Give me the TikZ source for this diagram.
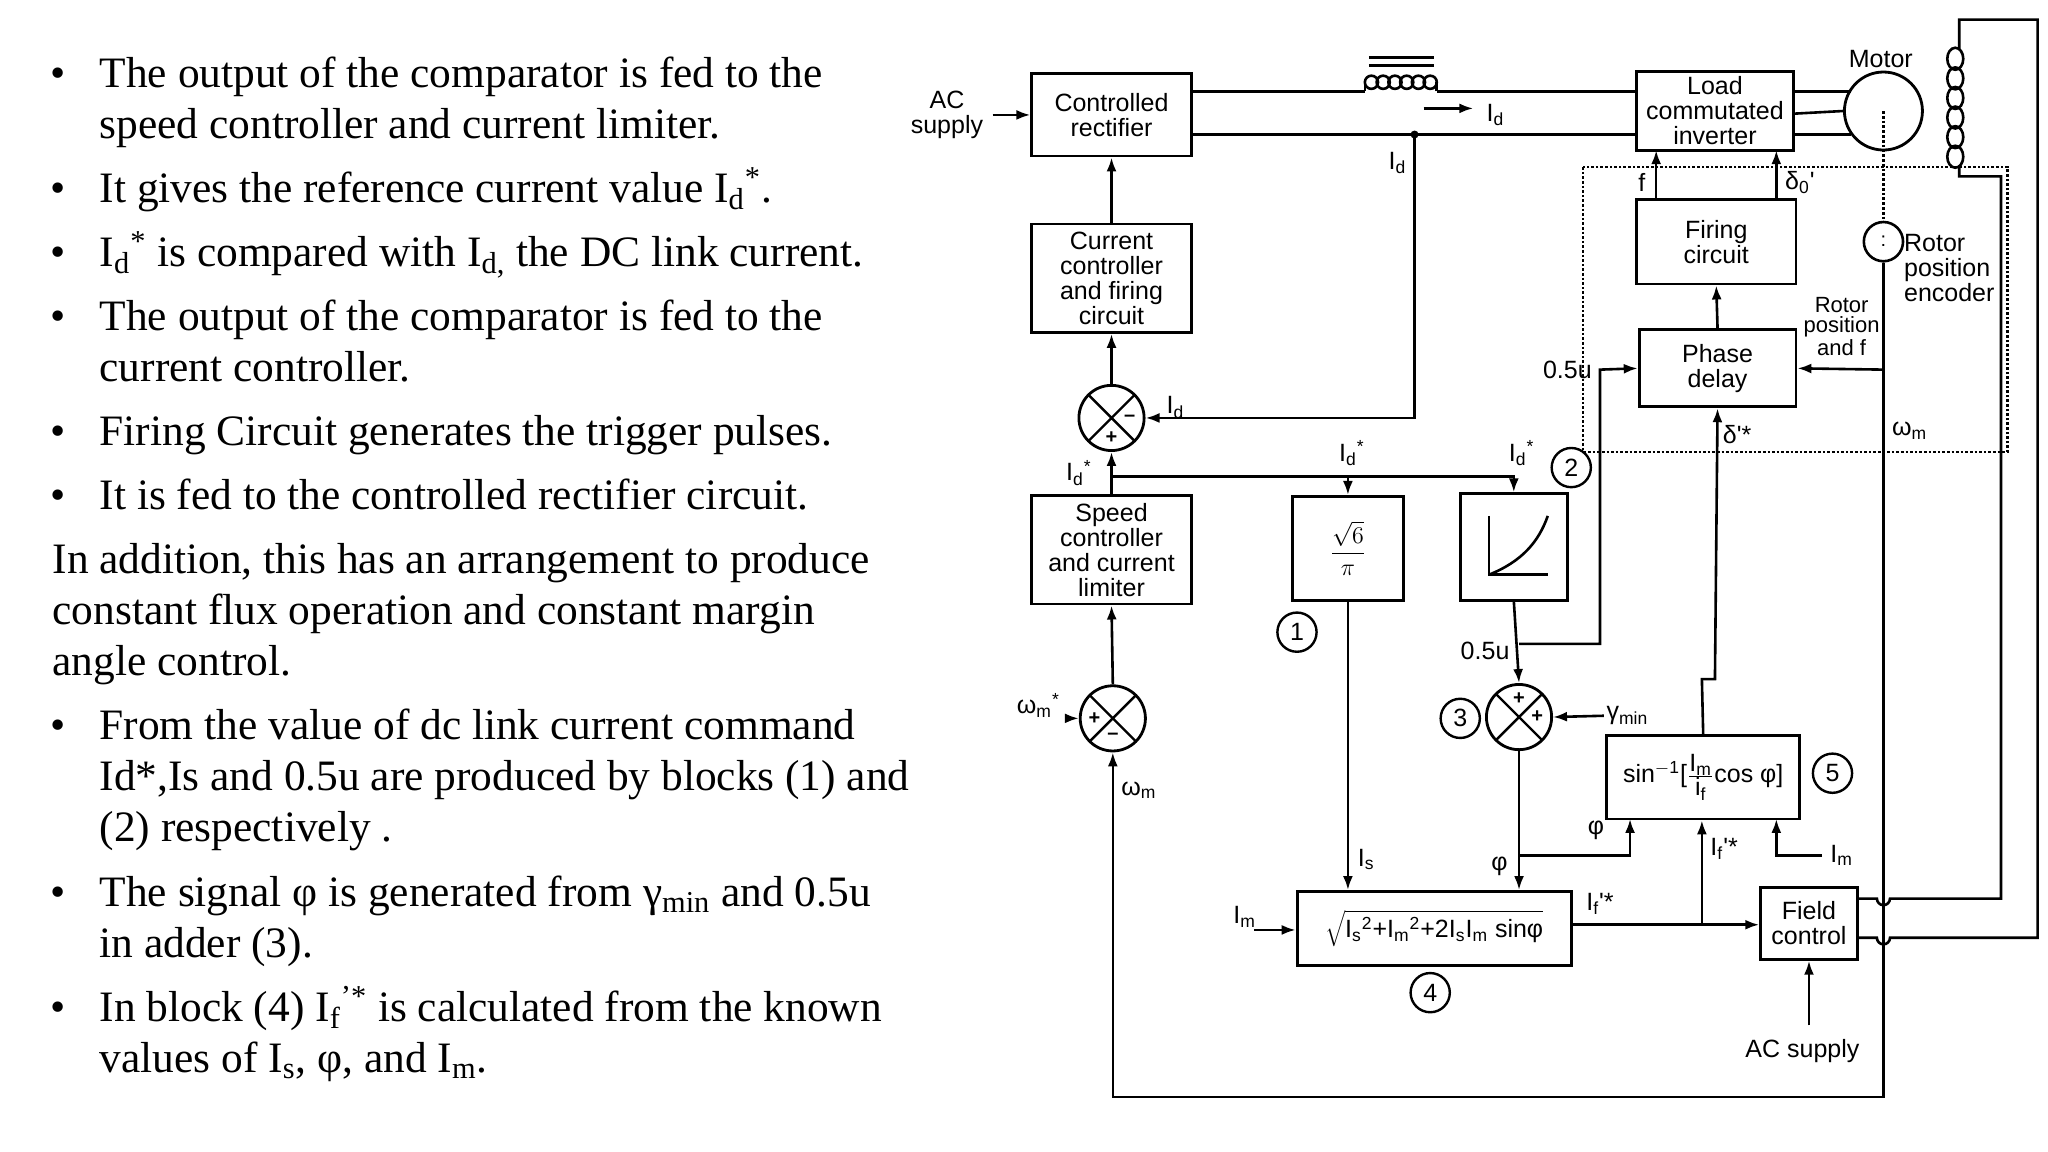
\documentclass[tikz,border=0pt]{standalone}
\usepackage{fontspec}
\setmainfont{Liberation Serif}
\newfontfamily\dsans{Liberation Sans}
\usetikzlibrary{arrows.meta,calc}
\newcommand{\dfont}{\dsans\fontsize{12.5}{12.5}\selectfont}
\newcommand{\tfont}{\fontsize{21.7}{25}\selectfont}
\begin{document}
\begin{tikzpicture}[x=0.653pt,y=-0.653pt,
 blk/.style={draw,line width=1.4pt,align=center,font=\dfont,inner sep=1pt},
 ln/.style={line width=1.3pt},
 arr/.style={ln,-{Latex[length=7pt,width=5pt]}},
 lab/.style={font=\dfont,inner sep=1pt},
 sum/.style={circle,draw,line width=1.4pt,minimum size=32.6pt,inner sep=0pt,
   path picture={\draw[line width=1.2pt] (path picture bounding box.north west)--(path picture bounding box.south east) (path picture bounding box.north east)--(path picture bounding box.south west);}},
 num/.style={circle,draw,line width=1.2pt,minimum size=19.6pt,inner sep=0pt,font=\dfont},
 sg/.style={font=\dsans\fontsize{10}{10}\selectfont\bfseries,inner sep=0pt},
 tl/.style={anchor=base west,font=\tfont,inner sep=0pt}]
\useasboundingbox (0,0) rectangle (1568,882);
% ---------- left text ----------
\foreach \y in {59,147,196,245,333,382,558,686,774}{\node[tl] (bu\y) at (38,\y+8) {•};}
\node[tl] (t1) at (76,67) {The output of the comparator is fed to the};
\node[tl] (t2) at (76,106) {speed controller and current limiter.};
\node[tl] (t3) at (76,155) {It gives the reference current value I\textsubscript{d}\textsuperscript{*}.};
\node[tl] (t4) at (76,204) {I\textsubscript{d}\textsuperscript{*} is compared with I\textsubscript{d,} the DC link current.};
\node[tl] (t5) at (76,253) {The output of the comparator is fed to the};
\node[tl] (t6) at (76,292) {current controller.};
\node[tl] (t7) at (76,341) {Firing Circuit generates the trigger pulses.};
\node[tl] (t8) at (76,390) {It is fed to the controlled rectifier circuit.};
\node[tl] (t9) at (40,439) {In addition, this has an arrangement to produce};
\node[tl] (t10) at (40,478) {constant flux operation and constant margin};
\node[tl] (t11) at (40,517) {angle control.};
\node[tl] (t12) at (76,566) {From the value of dc link current command};
\node[tl] (t13) at (76,605) {Id*,Is and 0.5u are produced by blocks (1) and};
\node[tl] (t14) at (76,644) {(2) respectively .};
\node[tl] (t15) at (76,694) {The signal φ is generated from γ\textsubscript{min} and 0.5u};
\node[tl] (t16) at (76,733) {in adder (3).};
\node[tl] (t17) at (76,782) {In block (4) I\textsubscript{f}\textsuperscript{’*} is calculated from the known};
\node[tl] (t18) at (76,821) {values of I\textsubscript{s}, φ, and I\textsubscript{m}.};
% ---------- blocks ----------
\node[blk,minimum width=79.7pt,minimum height=41.1pt] (cr) at (851,88) {Controlled\\rectifier};
\node[blk,minimum width=78.4pt,minimum height=39.2pt] (lci) at (1313,85) {Load\\commutated\\inverter};
\node[blk,minimum width=79.7pt,minimum height=42.4pt] (fc) at (1314,185) {Firing\\circuit};
\node[blk,minimum width=78.4pt,minimum height=38.5pt] (pd) at (1315,282) {Phase\\delay};
\node[blk,minimum width=79.7pt,minimum height=54.2pt] (cc) at (851,213) {Current\\controller\\and firing\\circuit};
\node[blk,minimum width=79.7pt,minimum height=54.2pt] (sc) at (851,421) {Speed\\controller\\and current\\limiter};
\node[blk,minimum width=55.5pt,minimum height=52.2pt,font=\dsans\fontsize{13}{13}\selectfont] (b1) at (1032,420) {$\displaystyle\frac{\sqrt{6}}{\pi}$};
\node[blk,minimum width=53.5pt,minimum height=53.5pt] (b2) at (1159,419) {};
\draw[line width=1.3pt] (1140,395) -- (1140,440) -- (1185,440);
\draw[line width=1.3pt] (1140,440) .. controls (1165,430) and (1178,415) .. (1185,395);
\node[blk,minimum width=137pt,minimum height=37.2pt] (b4) at (1098,711) {$\sqrt{\hbox{\dfont I\textsubscript{s}\textsuperscript{2}+I\textsubscript{m}\textsuperscript{2}+2I\textsubscript{s}I\textsubscript{m} sinφ}}$};
\node[blk,minimum width=96.6pt,minimum height=41.8pt] (b5) at (1304,595) {sin\textsuperscript{$-$1}[$\frac{\hbox{\dsans I\textsubscript{m}}}{\hbox{\dsans i\textsubscript{f}}}$cos φ]};
\node[blk,minimum width=48.3pt,minimum height=35.9pt] (fld) at (1385,707) {Field\\control};
\node[sum] (s1) at (852,550) {};
\node[sum] (s2) at (851,320) {};
\node[sum] (s3) at (1163,549) {};
\node[sg] (s1p) at (838,550) {+}; \node[sg] (s1m) at (852,564) {–};
\node[sg] (s2m) at (865,320) {–}; \node[sg] (s2p) at (851,335) {+};
\node[sg] (s3p) at (1163,535) {+}; \node[sg] (s3q) at (1177,549) {+};
\node[num] (n1) at (993,484) {1};
\node[num] (n2) at (1203,358) {2};
\node[num] (n3) at (1118,550) {3};
\node[num] (n4) at (1095,760) {4};
\node[num] (n5) at (1403,592) {5};
\node[circle,draw,line width=1.4pt,minimum size=39pt,inner sep=0pt] (mot) at (1442,85) {};
\node[circle,draw,line width=1.3pt,minimum size=19.6pt,inner sep=0pt] (enc) at (1442,185) {};
% ---------- labels ----------
\node[lab,align=center] (acs) at (725,88) {AC\\supply};
\node[lab] (mtl) at (1440,45) {Motor};
\node[lab,align=left,anchor=west] (encl) at (1456,205) {Rotor\\position\\encoder};
\node[lab,align=center,font=\dsans\fontsize{11}{10}\selectfont] (rpf) at (1410,250) {Rotor\\position\\and f};
\node[lab] (lid1) at (1145,88) {I\textsubscript{d}};
\node[lab] (lid2) at (1070,125) {I\textsubscript{d}};
\node[lab] (lid3) at (900,312) {I\textsubscript{d}};
\node[lab] (lid4) at (826,362) {I\textsubscript{d}\textsuperscript{*}};
\node[lab] (lid5) at (1035,347) {I\textsubscript{d}\textsuperscript{*}};
\node[lab] (lid6) at (1165,347) {I\textsubscript{d}\textsuperscript{*}};
\node[lab] (lf) at (1257,140) {f};
\node[lab] (ld0) at (1378,140) {δ\textsubscript{0}'};
\node[lab] (l05a) at (1200,283) {0.5u};
\node[lab] (l05b) at (1137,498) {0.5u};
\node[lab] (ldel) at (1330,333) {δ'*};
\node[lab] (lwm1) at (1462,330) {ω\textsubscript{m}};
\node[lab] (lwms) at (795,540) {ω\textsubscript{m}\textsuperscript{*}};
\node[lab] (lwm2) at (872,605) {ω\textsubscript{m}};
\node[lab] (lgam) at (1246,548) {γ\textsubscript{min}};
\node[lab] (lphi1) at (1148,663) {φ};
\node[lab] (lphi2) at (1222,636) {φ};
\node[lab] (lis) at (1046,658) {I\textsubscript{s}};
\node[lab] (lim1) at (953,702) {I\textsubscript{m}};
\node[lab] (lim2) at (1410,655) {I\textsubscript{m}};
\node[lab] (lif1) at (1225,692) {I\textsubscript{f}'*};
\node[lab] (lif2) at (1320,650) {I\textsubscript{f}'*};
\node[lab] (acs2) at (1380,805) {AC supply};
% ---------- power circuit ----------
\coordinate (acin) at (760,88);
\draw[arr] (acin) -- (cr.west);
\coordinate (L1) at (1045,70); \coordinate (L2) at (1100,70);
\draw[ln] (cr.east |- 0,70) -- (L1);
\foreach \i in {0,...,5}{\draw[ln] (1050+9*\i,63) circle (3.3pt);}
\draw[ln] (L1) -- (1045,63) (L2) -- (1100,63);
\draw[ln] (L2) -- (lci.west |- 0,70);
\draw[ln] (1048,44) -- (1098,44) (1048,50) -- (1098,50);
\draw[ln] (cr.east |- 0,103) -- (lci.west |- 0,103);
\draw[arr] (1090,83) -- (1128,83);
\coordinate (jd) at (1083,103);
\fill (jd) circle (2pt);
\draw[arr] (jd) |- (s2.east);
\draw[ln] (lci.east |- 0,70) -- (1417,70);
\draw[ln] (lci.east |- 0,87) -- (mot.west);
\draw[ln] (lci.east |- 0,103) -- (1417,103);
\draw[densely dotted,line width=1.4pt] (mot.center) -- (enc.north);
\node[font=\dsans\fontsize{10}{10}\selectfont,inner sep=0] (ed) at (1442,185) {:};
% field winding
\coordinate (F1) at (1500,38); \coordinate (F2) at (1500,128);
\foreach \i in {0,...,5}{\draw[ln] (1497,45+15*\i) ellipse (4pt and 5.5pt);}
\draw[ln] (F1) -- (1500,15) -- (1560,15) -- (1560,718) -- (1447,718) arc (0:180:5) -- (fld.east |- 0,718);
\draw[ln] (F2) -- (1500,135) -- (1532,135) -- (1532,688) -- (1447,688) arc (0:180:5) -- (fld.east |- 0,688);
% dotted region
\draw[densely dotted,line width=1.3pt] (1212,128) rectangle (1537,346);
% ---------- control ----------
\draw[arr] (cc.north) -- (cr.south);
\draw[arr] (s2.north) -- (cc.south);
\draw[arr] (sc.north) -- (s2.south);
\draw[arr] (s1.north) -- (sc.south);
\coordinate (wmin) at (818,550);
\draw[arr] (wmin) -- (s1.west);
\coordinate (jid) at (851,365);
\draw[ln] (jid) -- (1160,365);
\draw[arr] (b1.north |- jid) -- (b1.north);
\draw[arr] (b2.north |- jid) -- (b2.north);
\draw[arr] (b1.south) -- (b1.south |- b4.north);
\draw[arr] (b2.south |- 0,460) -- (s3.north);
\coordinate (j05) at (1163,493);
\draw[arr] (j05) -- (1225,493) -- (1225,283) -- (pd.west);
\coordinate (gin) at (1228,548);
\draw[arr] (gin) -- (s3.east);
\draw[arr] (s3.south) -- (s3.south |- b4.north);
\coordinate (jphi) at (1163,655);
\draw[arr] (jphi) -- (1248,655) -- (1248,627);
\coordinate (jimin) at (960,712);
\draw[arr] (jimin) -- (b4.west |- jimin);
\draw[arr] (b4.east |- 0,708) -- (fld.west |- 0,708);
\coordinate (jif) at (1303,708);
\draw[arr] (jif) -- (jif |- b5.south);
\draw[arr] (1395,655) -- (1360,655) -- (1360,627);
\draw[arr] (b5.north) -- (1303,520) -- (1313,520) -- (pd.south);
\draw[arr] (pd.north) -- (fc.south);
\draw[arr] (1268,153) -- (1268,115);
\draw[arr] (1360,153) -- (1360,115);
\draw[arr] (enc.south) -- (1442,283) -- (pd.east);
\draw[arr] (1442,283) -- (1442,840) -- (852,840) -- (s1.south);
\coordinate (acin2) at (1385,785);
\draw[arr] (acin2) -- (fld.south);
\end{tikzpicture}
\end{document}
